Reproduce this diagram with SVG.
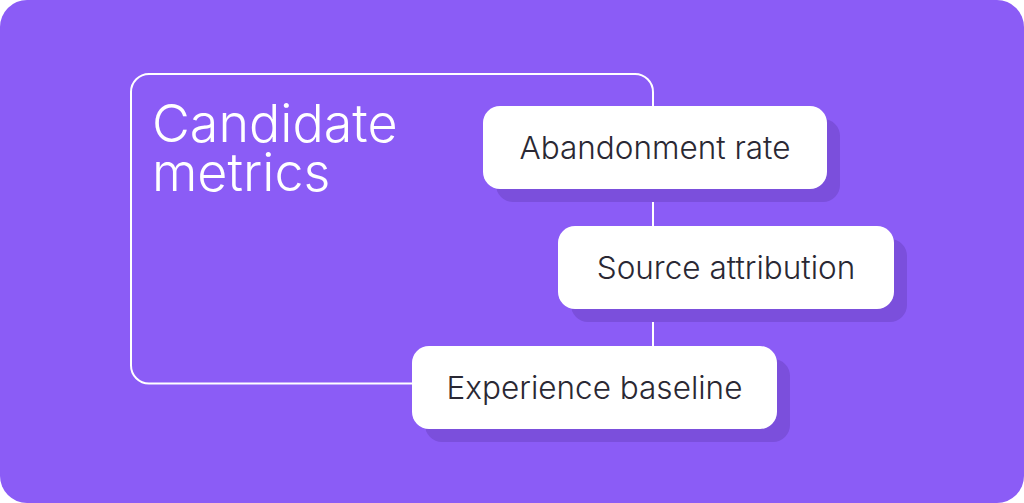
<svg xmlns="http://www.w3.org/2000/svg" width="1024" height="503" viewBox="0 0 1024 503">
<style>
.bg{fill:#8b5cf6}
.shadow{fill:#7b4fdc}
.box{fill:#ffffff}
.lbl{font-family:Inter,"Liberation Sans",sans-serif;font-size:31.5px;fill:#2a2833;text-anchor:middle;font-weight:300}
.title{font-family:Inter,"Liberation Sans",sans-serif;font-size:52px;fill:#ffffff;font-weight:300}
.conn{fill:none;stroke:#ffffff;stroke-width:2}
</style>
<rect class="bg" x="0" y="0" width="1024" height="503" rx="27" ry="27"/>
<g id="connectors">
<path class="conn" d="M412,383.5 H149 A18,18 0 0 1 131,365.5 V92 A18,18 0 0 1 149,74 H635 A18,18 0 0 1 653,92 V346"/>
</g>
<g id="title">
<text class="title" x="152" y="142">Candidate</text>
<text class="title" x="152" y="191">metrics</text>
</g>
<g id="abandonment-rate">
<rect class="shadow" x="496" y="119" width="344" height="83" rx="17"/>
<rect class="box" x="483" y="106" width="344" height="83" rx="17"/>
<text class="lbl" x="655" y="159">Abandonment rate</text>
</g>
<g id="source-attribution">
<rect class="shadow" x="571" y="239" width="336" height="83" rx="17"/>
<rect class="box" x="558" y="226" width="336" height="83" rx="17"/>
<text class="lbl" x="726" y="279">Source attribution</text>
</g>
<g id="experience-baseline">
<rect class="shadow" x="425" y="359" width="365" height="83" rx="17"/>
<rect class="box" x="412" y="346" width="365" height="83" rx="17"/>
<text class="lbl" x="594.5" y="399">Experience baseline</text>
</g>
</svg>
